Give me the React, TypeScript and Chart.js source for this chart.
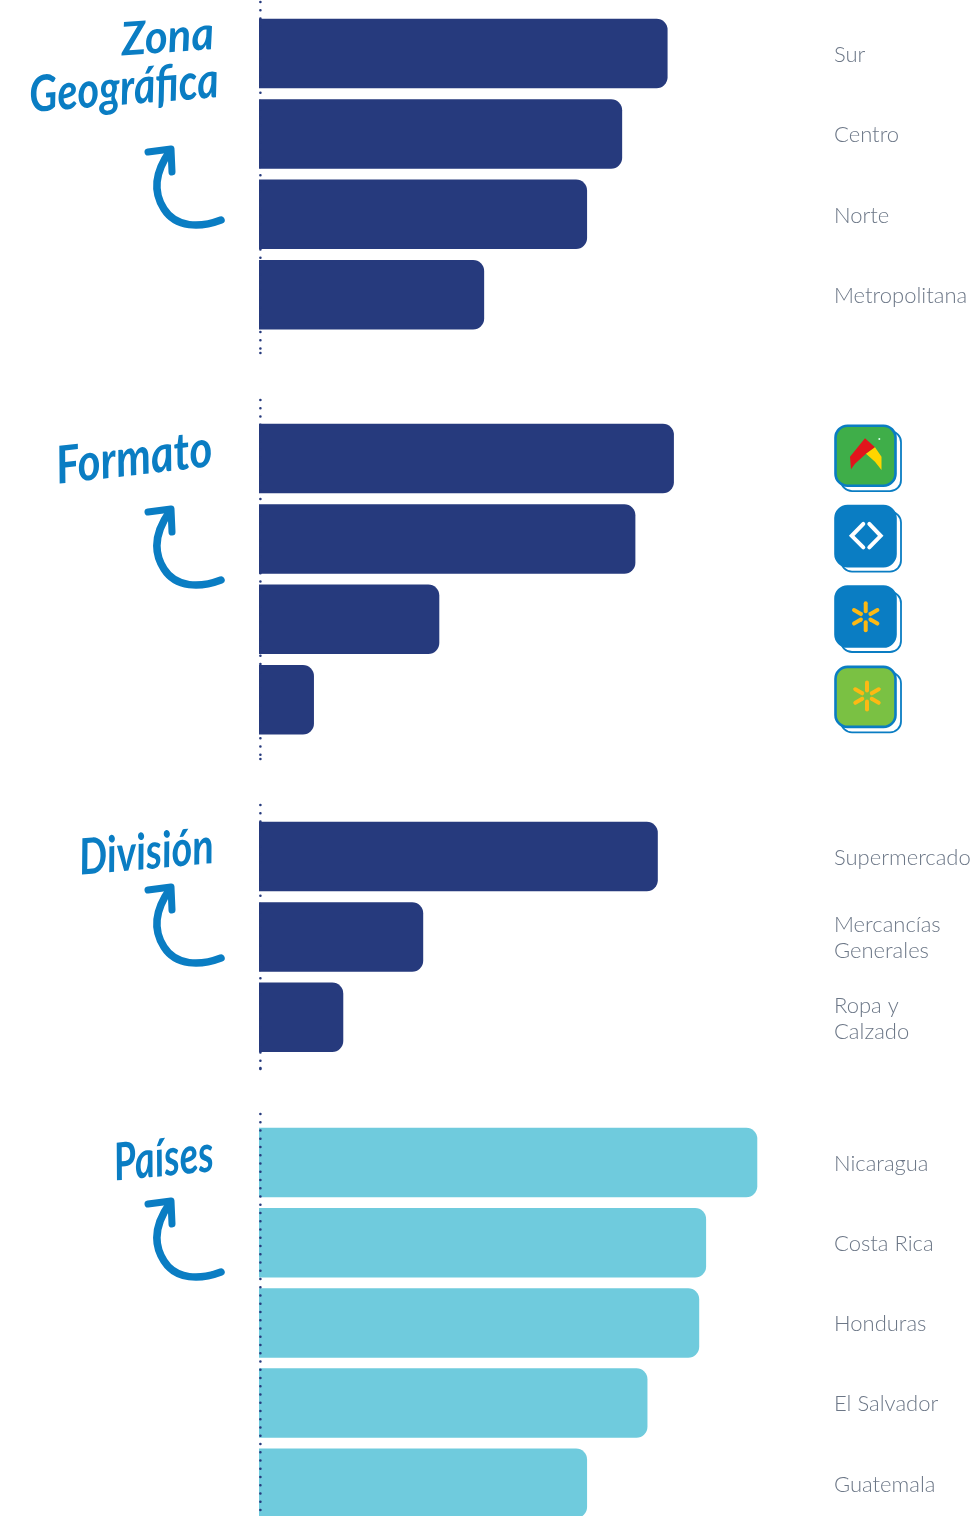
import React, { useEffect, useRef } from "react";
import { Chart, registerables } from "chart.js";

Chart.register(...registerables);

const zonaLabels = ["Sur", "Centro", "Norte", "Metropolitana"];
const zonaValues = [71, 63.1, 57, 39.1];
const formatoLabels = ["Maxi Palí", "Más x Menos", "Walmart", "Palí"];
const formatoValues = [72.1, 65.4, 31.3, 9.5];
const divisionLabels: (string | string[])[] = ["Supermercado", ["Mercancías", "Generales"], ["Ropa y", "Calzado"]];
const divisionValues = [69.3, 28.5, 14.6];
const paisesLabels = ["Nicaragua", "Costa Rica", "Honduras", "El Salvador", "Guatemala"];
const paisesValues = [86.6, 77.7, 76.5, 67.5, 57];

const NAVY = "#263a7d";
const CYAN = "#6fcbdd";
const BLUE = "#0a7dc3";
const GRAY = "#6c7787";
const YELLOW = "#fdb913";

function rr(ctx: CanvasRenderingContext2D, x: number, y: number, w: number, h: number, r: number) {
  ctx.beginPath();
  ctx.roundRect(x, y, w, h, r);
}

function poly(ctx: CanvasRenderingContext2D, pts: number[][], color: string) {
  ctx.beginPath();
  pts.forEach((p, i) => (i ? ctx.lineTo(p[0], p[1]) : ctx.moveTo(p[0], p[1])));
  ctx.closePath();
  ctx.fillStyle = color;
  ctx.fill();
}

function spark(ctx: CanvasRenderingContext2D, cx: number, cy: number) {
  ctx.strokeStyle = YELLOW;
  ctx.lineWidth = 4;
  ctx.lineCap = "round";
  for (let i = 0; i < 6; i++) {
    const a = (Math.PI / 3) * i + Math.PI / 2;
    ctx.beginPath();
    ctx.moveTo(cx + Math.cos(a) * 5.5, cy + Math.sin(a) * 5.5);
    ctx.lineTo(cx + Math.cos(a) * 13.5, cy + Math.sin(a) * 13.5);
    ctx.stroke();
  }
}

function drawLogo(ctx: CanvasRenderingContext2D, kind: number, cx: number, cy: number) {
  const x = cx - 30;
  const y = cy - 30;
  ctx.save();
  ctx.strokeStyle = BLUE;
  ctx.lineWidth = 1.8;
  rr(ctx, x + 5.5, y + 5.5, 60, 60, 11);
  ctx.fillStyle = "#fff";
  ctx.fill();
  ctx.stroke();
  const fills = ["#3fae49", BLUE, BLUE, "#7ac143"];
  rr(ctx, x, y, 60, 60, 12);
  ctx.fillStyle = fills[kind];
  ctx.fill();
  ctx.lineWidth = 2.6;
  ctx.stroke();
  if (kind === 0) {
    poly(ctx, [[cx - 15.5, cy + 1], [cx - 0.5, cy - 17.4], [cx + 9.5, cy - 8.4], [cx + 0.5, cy - 2], [cx - 10.5, cy + 8], [cx - 14.5, cy + 13.6]], "#e2141c");
    poly(ctx, [[cx + 0.5, cy - 2], [cx + 9.5, cy - 8.4], [cx + 16, cy + 1], [cx + 16, cy + 14.3], [cx + 9.5, cy + 6]], "#ffd500");
    ctx.beginPath();
    ctx.arc(cx + 13.8, cy - 16.7, 1, 0, Math.PI * 2);
    ctx.fillStyle = "#dfe";
    ctx.fill();
  } else if (kind === 1) {
    ctx.strokeStyle = "#fff";
    ctx.lineWidth = 4;
    ctx.lineCap = "round";
    ctx.lineJoin = "miter";
    [[-2.2, -13.8], [3.8, 15.2]].forEach((p) => {
      ctx.beginPath();
      ctx.moveTo(cx + p[0], cy - 12.2);
      ctx.lineTo(cx + p[1], cy - 0.3);
      ctx.lineTo(cx + p[0], cy + 11.3);
      ctx.stroke();
    });
  } else {
    spark(ctx, cx + (kind === 3 ? 1.5 : 0.2), cy + (kind === 3 ? -0.8 : 0.3));
  }
  ctx.restore();
}

const dottedAxis = (startY: number) => ({
  id: "dottedAxis",
  afterDatasetsDraw(chart: any) {
    const ctx = chart.ctx;
    const x = chart.scales.x.getPixelForValue(0) + 1.4;
    ctx.save();
    ctx.strokeStyle = NAVY;
    ctx.lineWidth = 2.6;
    ctx.lineCap = "round";
    ctx.setLineDash([0, 8.25]);
    ctx.beginPath();
    ctx.moveTo(x, startY);
    ctx.lineTo(x, chart.height - 1);
    ctx.stroke();
    ctx.setLineDash([]);
    ctx.beginPath();
    ctx.moveTo(x, chart.height - 3);
    ctx.lineTo(x, chart.height - 3);
    ctx.stroke();
    ctx.restore();
  },
});

const logoPlugin = {
  id: "logos",
  afterDraw(chart: any) {
    const y = chart.scales.y;
    formatoLabels.forEach((_, i) => {
      drawLogo(chart.ctx, i, 865.5, y.getPixelForValue(i) - 2.8);
    });
  },
};

type SectionProps = {
  labels: (string | string[])[];
  values: number[];
  color: string;
  top: number;
  height: number;
  padTop: number;
  padBottom: number;
  showLabels?: boolean;
  logos?: boolean;
};

function Section({ labels, values, color, top, height, padTop, padBottom, showLabels = true, logos = false }: SectionProps) {
  const ref = useRef<HTMLCanvasElement>(null);
  useEffect(() => {
    const chart = new Chart(ref.current as HTMLCanvasElement, {
      type: "bar",
      data: {
        labels,
        datasets: [
          {
            data: values,
            backgroundColor: color,
            barThickness: 68.8,
            borderRadius: { topLeft: 0, bottomLeft: 0, topRight: 11, bottomRight: 11 },
            borderSkipped: false,
          },
        ],
      },
      options: {
        indexAxis: "y",
        animation: false,
        responsive: false,
        devicePixelRatio: 1,
        layout: { padding: { left: 259, right: 0, top: padTop, bottom: padBottom } },
        plugins: { legend: { display: false }, tooltip: { enabled: false }, title: { display: false } },
        scales: {
          x: { display: false, min: 0, max: 100 },
          y: {
            position: "right",
            grid: { display: false, drawTicks: false },
            border: { display: false },
            afterFit(scale: any) {
              scale.width = 144;
              scale.paddingTop = 0;
              scale.paddingBottom = 0;
            },
            ticks: {
              display: showLabels,
              autoSkip: false,
              color: GRAY,
              crossAlign: "near",
              padding: 0,
              labelOffset: 1.3,
              font: { family: "Lato", size: 22, weight: "300", lineHeight: 1.18 },
            },
          },
        },
      },
      plugins: [dottedAxis(2), ...(logos ? [logoPlugin] : [])],
    } as any);
    return () => chart.destroy();
  }, []);
  return (
    <canvas
      ref={ref}
      width={978}
      height={height}
      style={{ position: "absolute", left: 0, top, width: 978, height, display: "block" }}
    />
  );
}

const titles = [
  { text: "Zona", x: 215, y: 49, w: 93, size: 46, rot: -4 },
  { text: "Geográfica", x: 220, y: 97, w: 190, size: 50, rot: -4.5 },
  { text: "Formato", x: 214, y: 466, w: 157, size: 52, rot: -6.5 },
  { text: "División", x: 215, y: 863, w: 135, size: 50, rot: -5 },
  { text: "Países", x: 215, y: 1171, w: 100, size: 52, rot: -5.5 },
];
const arrowOffsets = [0, 360, 738, 1052];

export default function App() {
  return (
    <div style={{ position: "relative", width: 978, height: 1516, overflow: "hidden", background: "#fff" }}>
      <style>{"html,body{margin:0;padding:0;background:#fff}"}</style>
      <Section labels={zonaLabels} values={zonaValues} color={NAVY} top={0} height={356} padTop={13.3} padBottom={21.1} />
      <Section labels={formatoLabels} values={formatoValues} color={NAVY} top={398} height={364} padTop={20.3} padBottom={22.1} showLabels={false} logos />
      <Section labels={divisionLabels} values={divisionValues} color={NAVY} top={803} height={268} padTop={13.3} padBottom={13.5} />
      <Section labels={paisesLabels} values={paisesValues} color={CYAN} top={1112} height={418} padTop={10.4} padBottom={6.6} />
      <svg width={978} height={1516} style={{ position: "absolute", left: 0, top: 0, pointerEvents: "none" }}>
        {titles.map((t) => (
          <text
            key={t.text}
            x={t.x}
            y={t.y}
            textAnchor="end"
            textLength={t.w}
            lengthAdjust="spacingAndGlyphs"
            transform={`rotate(${t.rot} ${t.x} ${t.y})`}
            fill={BLUE}
            style={{ fontFamily: "Lato", fontStyle: "italic", fontWeight: 700, fontSize: t.size }}
          >
            {t.text}
          </text>
        ))}
        {arrowOffsets.map((o) => (
          <g key={o} transform={`translate(0 ${o})`} fill="none" stroke={BLUE} strokeWidth={7.5} strokeLinecap="round" strokeLinejoin="round">
            <path d="M221 220 C200 228 176 228 164 209 C153 192 155 172 170 151" />
            <path d="M148 152 L171 149 L172 172" strokeWidth={7} />
          </g>
        ))}
      </svg>
    </div>
  );
}
